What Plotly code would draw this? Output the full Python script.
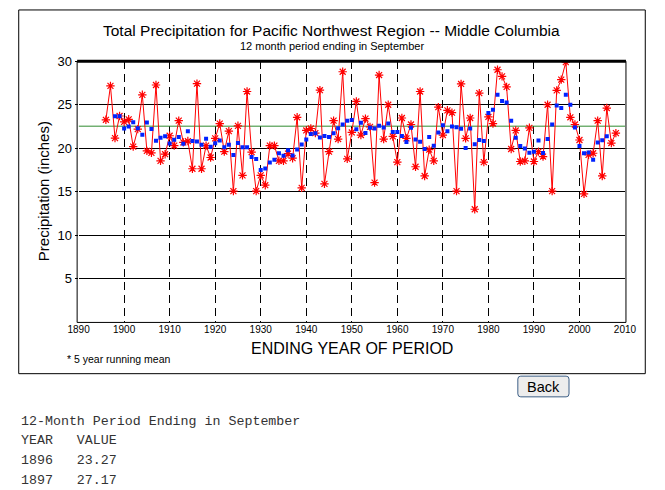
import plotly.graph_objects as go
import pandas as pd

years = list(range(1896, 2009))
precip = [
    23.27, 27.17, 21.17, 23.71, 23.03, 23.33, 20.19, 22.20, 26.14, 19.70,
    19.47, 27.27, 18.56, 19.32, 21.44, 20.30, 23.18, 20.68, 20.83, 17.65,
    27.42, 17.65, 20.30, 18.94, 21.14, 22.84, 19.62, 21.97, 15.08, 22.58,
    16.89, 26.52, 19.55, 15.08, 16.89, 15.76, 20.30, 20.30, 18.56, 18.56,
    19.39, 18.86, 23.56, 15.45, 22.05, 22.27, 21.74, 26.67, 15.91, 19.62,
    23.18, 21.06, 28.79, 18.79, 21.82, 25.38, 21.52, 23.41, 22.46, 16.06,
    28.41, 21.06, 25.00, 21.36, 18.41, 23.48, 21.14, 22.73, 17.88, 26.52,
    16.82, 19.85, 18.56, 24.73, 21.52, 24.36, 24.09, 15.08, 27.39, 21.14,
    23.48, 13.00, 26.33, 18.41, 23.60, 22.84, 29.02, 28.26, 27.05, 19.92,
    22.05, 18.48, 18.56, 22.35, 18.48, 19.62, 19.05, 25.00, 15.08, 26.65,
    27.88, 29.90, 23.56, 22.73, 20.95, 14.77, 19.24, 19.43, 23.18, 16.82,
    24.62, 20.60, 21.74,
]
period_mean = 22.54
x_ticks = list(range(1890, 2011, 10))
y_ticks = [5, 10, 15, 20, 25, 30]
table_rows = [("1896", "23.27"), ("1897", "27.17")]

running = pd.Series(precip, index=years).rolling(5, center=True).mean()

W, H = 665, 490
PL, PR, PT, PB = 70, 636, 55, 320


def px(x):
    return x / W


def py(y):
    return 1 - y / H


fig = go.Figure()
fig.add_trace(go.Scatter(
    x=[1890, 2010], y=[period_mean, period_mean], mode="lines",
    line=dict(color="#2e8b2e", width=1), hoverinfo="skip", showlegend=False))
fig.add_trace(go.Scatter(
    x=years, y=precip, mode="lines+markers",
    line=dict(color="#ff0000", width=1),
    marker=dict(symbol="asterisk-open", size=7, color="#ff0000",
                line=dict(color="#ff0000", width=1.2)),
    showlegend=False))
fig.add_trace(go.Scatter(
    x=list(running.index), y=list(running.values), mode="markers",
    marker=dict(symbol="square", size=4, color="#0022ff",
                line=dict(width=0)),
    showlegend=False))

font = "Liberation Sans, Arial, sans-serif"
mono = "Liberation Mono, Courier New, monospace"

fig.update_layout(
    width=W, height=H, margin=dict(l=0, r=0, t=0, b=0),
    paper_bgcolor="white", plot_bgcolor="white",
    font=dict(family=font, color="black"),
    xaxis=dict(domain=[px(PL), px(PR)], range=[1890, 2010],
               tickvals=x_ticks, ticktext=[str(t) for t in x_ticks],
               tickfont=dict(size=10), ticks="", showgrid=True,
               gridcolor="black", gridwidth=1, griddash="8px,5px",
               zeroline=False, showline=False),
    yaxis=dict(domain=[py(PB), py(PT)], range=[0, 30],
               tickvals=y_ticks, tickfont=dict(size=13),
               ticks="outside", ticklen=3, tickcolor="black",
               showgrid=True, gridcolor="black", gridwidth=1,
               zeroline=False, showline=False),
)

bx0, bx1, by0, by1, r = 525, 578, 374.5, 395.5, 3
button_path = (
    f"M {px(bx0 + r)},{py(by0)} L {px(bx1 - r)},{py(by0)} "
    f"Q {px(bx1)},{py(by0)} {px(bx1)},{py(by0 + r)} "
    f"L {px(bx1)},{py(by1 - r)} Q {px(bx1)},{py(by1)} {px(bx1 - r)},{py(by1)} "
    f"L {px(bx0 + r)},{py(by1)} Q {px(bx0)},{py(by1)} {px(bx0)},{py(by1 - r)} "
    f"L {px(bx0)},{py(by0 + r)} Q {px(bx0)},{py(by0)} {px(bx0 + r)},{py(by0)} Z"
)

shapes = [
    # outer frame
    dict(type="rect", xref="paper", yref="paper", x0=px(8), x1=px(657),
         y0=py(372), y1=py(3), line=dict(color="black", width=1)),
    # plot borders
    dict(type="line", xref="paper", yref="paper", x0=px(PL - 1.5), x1=px(PL - 1.5),
         y0=py(PB), y1=py(PT), line=dict(color="black", width=1)),
    dict(type="line", xref="paper", yref="paper", x0=px(PR + 1), x1=px(PR + 1),
         y0=py(PB), y1=py(PT), line=dict(color="black", width=1)),
    dict(type="line", xref="paper", yref="paper", x0=px(PL - 1.5), x1=px(PR + 1),
         y0=py(PB), y1=py(PB), line=dict(color="black", width=1)),
    dict(type="line", xref="paper", yref="paper", x0=px(PL - 1.5), x1=px(PR + 1),
         y0=py(PT), y1=py(PT), line=dict(color="black", width=3)),
    # Back button
    dict(type="path", xref="paper", yref="paper", path=button_path,
         fillcolor="#ededed", line=dict(color="#3d5f86", width=1)),
]
fig.update_layout(shapes=shapes)

ann = [
    dict(x=px(332), y=py(24), text="Total Precipitation for Pacific Northwest Region -- Middle Columbia",
         font=dict(size=15.5), xanchor="center", yanchor="middle"),
    dict(x=px(332), y=py(40), text="12 month period ending in September",
         font=dict(size=11), xanchor="center", yanchor="middle"),
    dict(x=px(34), y=py(187), text="Precipitation (inches)", textangle=-90,
         font=dict(size=15), xanchor="center", yanchor="middle"),
    dict(x=px(353), y=py(346), text="ENDING YEAR OF PERIOD",
         font=dict(size=16), xanchor="center", yanchor="middle"),
    dict(x=px(56), y=py(357), text="*\u00a05 year running mean",
         font=dict(size=10.5), xanchor="left", yanchor="middle"),
    dict(x=px(551.5), y=py(385), text="Back",
         font=dict(size=14.5), xanchor="center", yanchor="middle"),
    dict(x=px(8), y=py(421), text="12-Month\u00a0Period\u00a0Ending\u00a0in\u00a0September",
         font=dict(size=13.3, family=mono, color="#333"), xanchor="left", yanchor="middle"),
    dict(x=px(8), y=py(440), text="YEAR\u00a0\u00a0\u00a0VALUE",
         font=dict(size=13.3, family=mono, color="#333"), xanchor="left", yanchor="middle"),
]
row_y = [460.5, 480.5]
for (yr, val), yy in zip(table_rows, row_y):
    ann.append(dict(x=px(8), y=py(yy), text=yr + "\u00a0\u00a0\u00a0" + val,
                    font=dict(size=13.3, family=mono, color="#333"),
                    xanchor="left", yanchor="middle"))
for a in ann:
    a.update(xref="paper", yref="paper", showarrow=False)
fig.update_layout(annotations=ann)

fig.write_html("out.html")
